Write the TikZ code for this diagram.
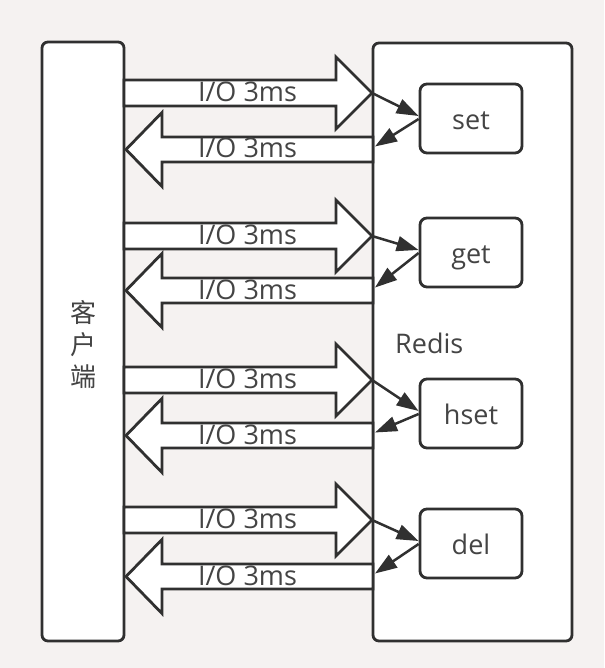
\documentclass[tikz,border=0pt]{standalone}
\usepackage{fontspec}
\setmainfont{Open Sans}
\newfontfamily\cjk{Noto Sans CJK SC}
\usetikzlibrary{arrows.meta}
\definecolor{bg}{RGB}{245,242,241}
\definecolor{ln}{RGB}{48,48,48}
\definecolor{tx}{RGB}{68,68,68}
\begin{document}
\begin{tikzpicture}[x=1pt,y=-1pt,
  box/.style={draw=ln, line width=2.8pt, fill=white, rounded corners=6pt, inner sep=0pt},
  op/.style={box, rounded corners=7pt, minimum width=102pt, minimum height=69pt,
    text height=22pt, text depth=0pt, font=\fontsize{27}{30}\selectfont, text=tx},
  bigarrow/.style={draw=ln, line width=2.8pt, fill=white, line join=miter},
  iolabel/.style={anchor=base, inner sep=0pt, text=tx, font=\fontsize{27}{30}\selectfont},
  link/.style={draw=ln, line width=2.5pt, -{Triangle[length=22pt,width=15pt]}}
]
\fill[bg] (0,0) rectangle (604,668);
\useasboundingbox (0,0) rectangle (604,668);

\node[box, minimum width=82pt, minimum height=599pt] (client) at (83,341.5) {};
\node[inner sep=0pt, align=center, text=tx, font=\cjk\fontsize{26}{32}\selectfont] (clientlabel) at (83,345) {客\\户\\端};

\node[box, minimum width=199pt, minimum height=598pt] (redis) at (472.5,342) {};
\node[anchor=base west, inner sep=0pt, text=tx, font=\fontsize{27}{30}\selectfont] (redislabel) at (395,353) {Redis};

\foreach \n/\txt/\m/\r/\l in {1/set/118.5/93/149.5, 2/get/252.5/236/290.5, 3/hset/413.5/380/435.5, 4/del/543.5/520/576.5}{
  \draw[bigarrow] (124,\r-13) -- (336,\r-13) -- (336,\r-36) -- (372,\r) -- (336,\r+36) -- (336,\r+13) -- (124,\r+13) -- cycle;
  \node[iolabel] (in\n) at (247.5,\r+8.5) {I/O 3ms};
  \draw[bigarrow] (373,\l-12.5) -- (162,\l-12.5) -- (162,\l-37) -- (126,\l) -- (162,\l+37) -- (162,\l+12.5) -- (373,\l+12.5) -- cycle;
  \node[iolabel] (out\n) at (247.5,\l+8.5) {I/O 3ms};
  \coordinate (tip\n) at (372,\r);
  \coordinate (ret\n) at (375,\l-3);
  \node[op] (op\n) at (471,\m) {\txt};
  \draw[link] (tip\n) -- ([yshift=2.5pt]op\n.west);
  \draw[link] ([yshift=-0.5pt]op\n.west) -- (ret\n);
}
\end{tikzpicture}
\end{document}
